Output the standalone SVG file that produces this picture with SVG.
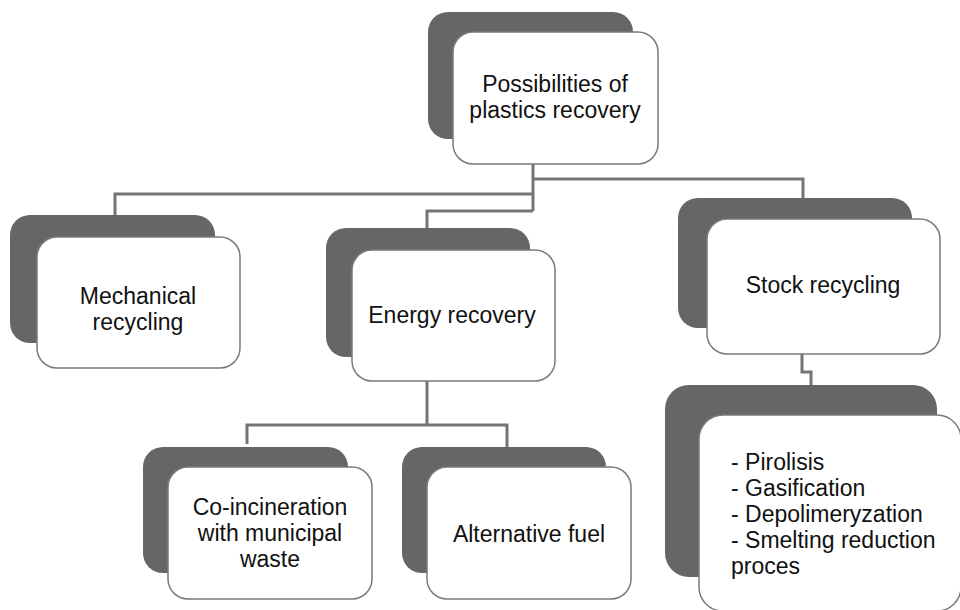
<svg xmlns="http://www.w3.org/2000/svg" width="960" height="610" viewBox="0 0 960 610">
<style>
.back{fill:#666666;}
.front{fill:#ffffff;stroke:#7a7a7a;stroke-width:1.5;}
.conn{fill:none;stroke:#747474;stroke-width:3;}
text{font-family:"Liberation Sans",Arial,sans-serif;font-size:23px;fill:#111111;}
.c{text-anchor:middle;}
</style>
<rect width="960" height="610" fill="#ffffff"/>
<g id="connectors">
<path class="conn" d="M533,164 V211"/>
<path class="conn" d="M533,179 H803 V198"/>
<path class="conn" d="M533,194 H115 V216"/>
<path class="conn" d="M533,211 H427 V229"/>
<path class="conn" d="M427,381 V425"/>
<path class="conn" d="M247,444 V425 H507 V447"/>
<path class="conn" d="M802,354 V372 H811 V386"/>
</g>
<g id="node-root">
<rect class="back" x="428" y="12" width="205" height="127" rx="20"/>
<rect class="front" x="453" y="32" width="205" height="132" rx="20"/>
<text class="c" x="555" y="92">Possibilities of</text>
<text class="c" x="555" y="118">plastics recovery</text>
</g>
<g id="node-mechanical">
<rect class="back" x="10" y="215" width="205" height="128" rx="20"/>
<rect class="front" x="37" y="237" width="203" height="131" rx="20"/>
<text class="c" x="138" y="304">Mechanical</text>
<text class="c" x="138" y="330">recycling</text>
</g>
<g id="node-energy">
<rect class="back" x="326" y="228" width="204" height="129" rx="20"/>
<rect class="front" x="352" y="250" width="203" height="131" rx="20"/>
<text class="c" x="452" y="323">Energy recovery</text>
</g>
<g id="node-stock">
<rect class="back" x="678" y="198" width="234" height="130" rx="20"/>
<rect class="front" x="707" y="219" width="233" height="135" rx="20"/>
<text class="c" x="823" y="293">Stock recycling</text>
</g>
<g id="node-stock-methods">
<rect class="back" x="665" y="385" width="272" height="192" rx="24"/>
<rect class="front" x="699" y="415" width="262" height="196" rx="24"/>
<text x="731" y="470">- Pirolisis</text>
<text x="731" y="496">- Gasification</text>
<text x="731" y="522">- Depolimeryzation</text>
<text x="731" y="548">- Smelting reduction</text>
<text x="731" y="574">proces</text>
</g>
<g id="node-coincineration">
<rect class="back" x="143" y="447" width="205" height="126" rx="20"/>
<rect class="front" x="168" y="467" width="204" height="132" rx="20"/>
<text class="c" x="270" y="515">Co-incineration</text>
<text class="c" x="270" y="541">with municipal</text>
<text class="c" x="270" y="567">waste</text>
</g>
<g id="node-alternative">
<rect class="back" x="402" y="447" width="204" height="126" rx="20"/>
<rect class="front" x="427" y="467" width="204" height="132" rx="20"/>
<text class="c" x="529" y="542">Alternative fuel</text>
</g>
</svg>
